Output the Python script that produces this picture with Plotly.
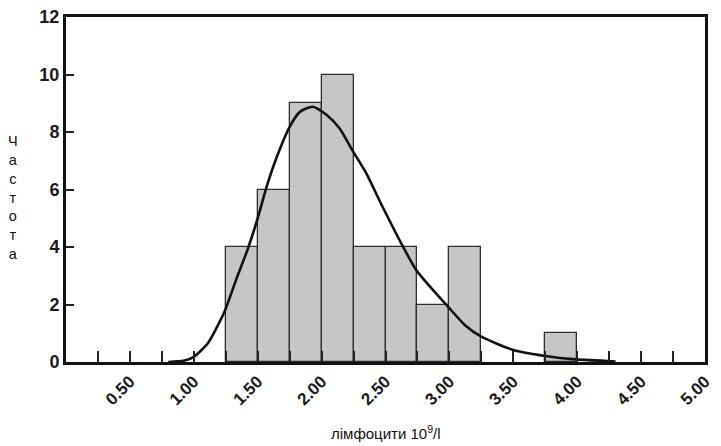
import plotly.graph_objects as go

# Histogram data (bin width 0.25)
bin_left = [1.25, 1.50, 1.75, 2.00, 2.25, 2.50, 2.75, 3.00, 3.75]
counts = [4, 6, 9, 10, 4, 4, 2, 4, 1]
bin_width = 0.25

# Fitted curve
curve_x = [0.80, 0.92, 1.00, 1.11, 1.24, 1.34, 1.42, 1.50, 1.57, 1.65, 1.75, 1.83, 1.93,
           2.04, 2.14, 2.24, 2.35, 2.47, 2.63, 2.74, 2.86, 2.99, 3.12, 3.25, 3.50, 3.75,
           3.99, 4.30]
curve_y = [0.00, 0.04, 0.18, 0.65, 1.75, 2.97, 3.90, 5.00, 6.10, 7.14, 8.18, 8.70, 8.88,
           8.59, 8.13, 7.37, 6.56, 5.46, 4.07, 3.20, 2.56, 1.92, 1.29, 0.88, 0.42, 0.21,
           0.09, 0.02]

x_tickvals = [0.5, 1.0, 1.5, 2.0, 2.5, 3.0, 3.5, 4.0, 4.5, 5.0]
x_ticktext = ["0.50", "1.00", "1.50", "2.00", "2.50", "3.00", "3.50", "4.00", "4.50", "5.00"]
y_tickvals = [0, 2, 4, 6, 8, 10, 12]

x_title = "лімфоцити 10<sup>9</sup>/l"
y_title = "Частота"

W, H = 721, 446
ML, MR, MT, MB = 66, 7, 17, 84
plot_h = H - MT - MB
plot_w = W - ML - MR

bin_centers = [b + bin_width / 2 for b in bin_left]

fig = go.Figure()
fig.add_trace(go.Bar(
    x=bin_centers, y=counts, width=bin_width,
    marker=dict(color="#c6c6c6", line=dict(color="#2e2e2e", width=1.3)),
    showlegend=False, hoverinfo="skip",
))
fig.add_trace(go.Scatter(
    x=curve_x, y=curve_y, mode="lines",
    line=dict(color="#111111", width=2.6, shape="spline", smoothing=0.6),
    showlegend=False,
))

font_fam = "Liberation Sans, Arial"

annotations = [
    dict(
        text=x_title, xref="paper", yref="paper", x=0.5, y=-70 / plot_h,
        xanchor="center", yanchor="middle", showarrow=False,
        font=dict(family=font_fam, size=15, color="#111"),
    ),
    dict(
        text="<br>".join(y_title), xref="paper", yref="paper",
        x=-(ML - 12) / plot_w, y=1 - (197 - MT) / plot_h,
        xanchor="center", yanchor="middle", showarrow=False, align="center",
        font=dict(family=font_fam, size=14.5, color="#111"),
    ),
]

fig.update_layout(
    width=W, height=H,
    margin=dict(l=ML, r=MR, t=MT, b=MB),
    plot_bgcolor="white", paper_bgcolor="white",
    bargap=0,
    xaxis=dict(
        range=[0, 5], tickvals=x_tickvals, ticktext=x_ticktext,
        tickangle=-45, ticks="inside", ticklen=11, tickwidth=1.5, tickcolor="#222",
        minor=dict(dtick=0.25, tick0=0, ticks="inside", ticklen=11, tickwidth=1.5,
                   tickcolor="#222"),
        showline=True, mirror=True, linewidth=3, linecolor="#111",
        showgrid=False, zeroline=False,
        tickfont=dict(family=font_fam, size=17, color="#1a1a1a", weight="bold"),
    ),
    yaxis=dict(
        range=[0, 12], tickvals=y_tickvals,
        ticks="inside", ticklen=8, tickwidth=1.5, tickcolor="#222",
        showline=True, mirror=True, linewidth=3, linecolor="#111",
        showgrid=False, zeroline=False,
        tickfont=dict(family=font_fam, size=18, color="#1a1a1a", weight="bold"),
    ),
    annotations=annotations,
)

fig.write_html("out.html", post_script="document.body.style.margin='0';",
               config={"displayModeBar": False})
